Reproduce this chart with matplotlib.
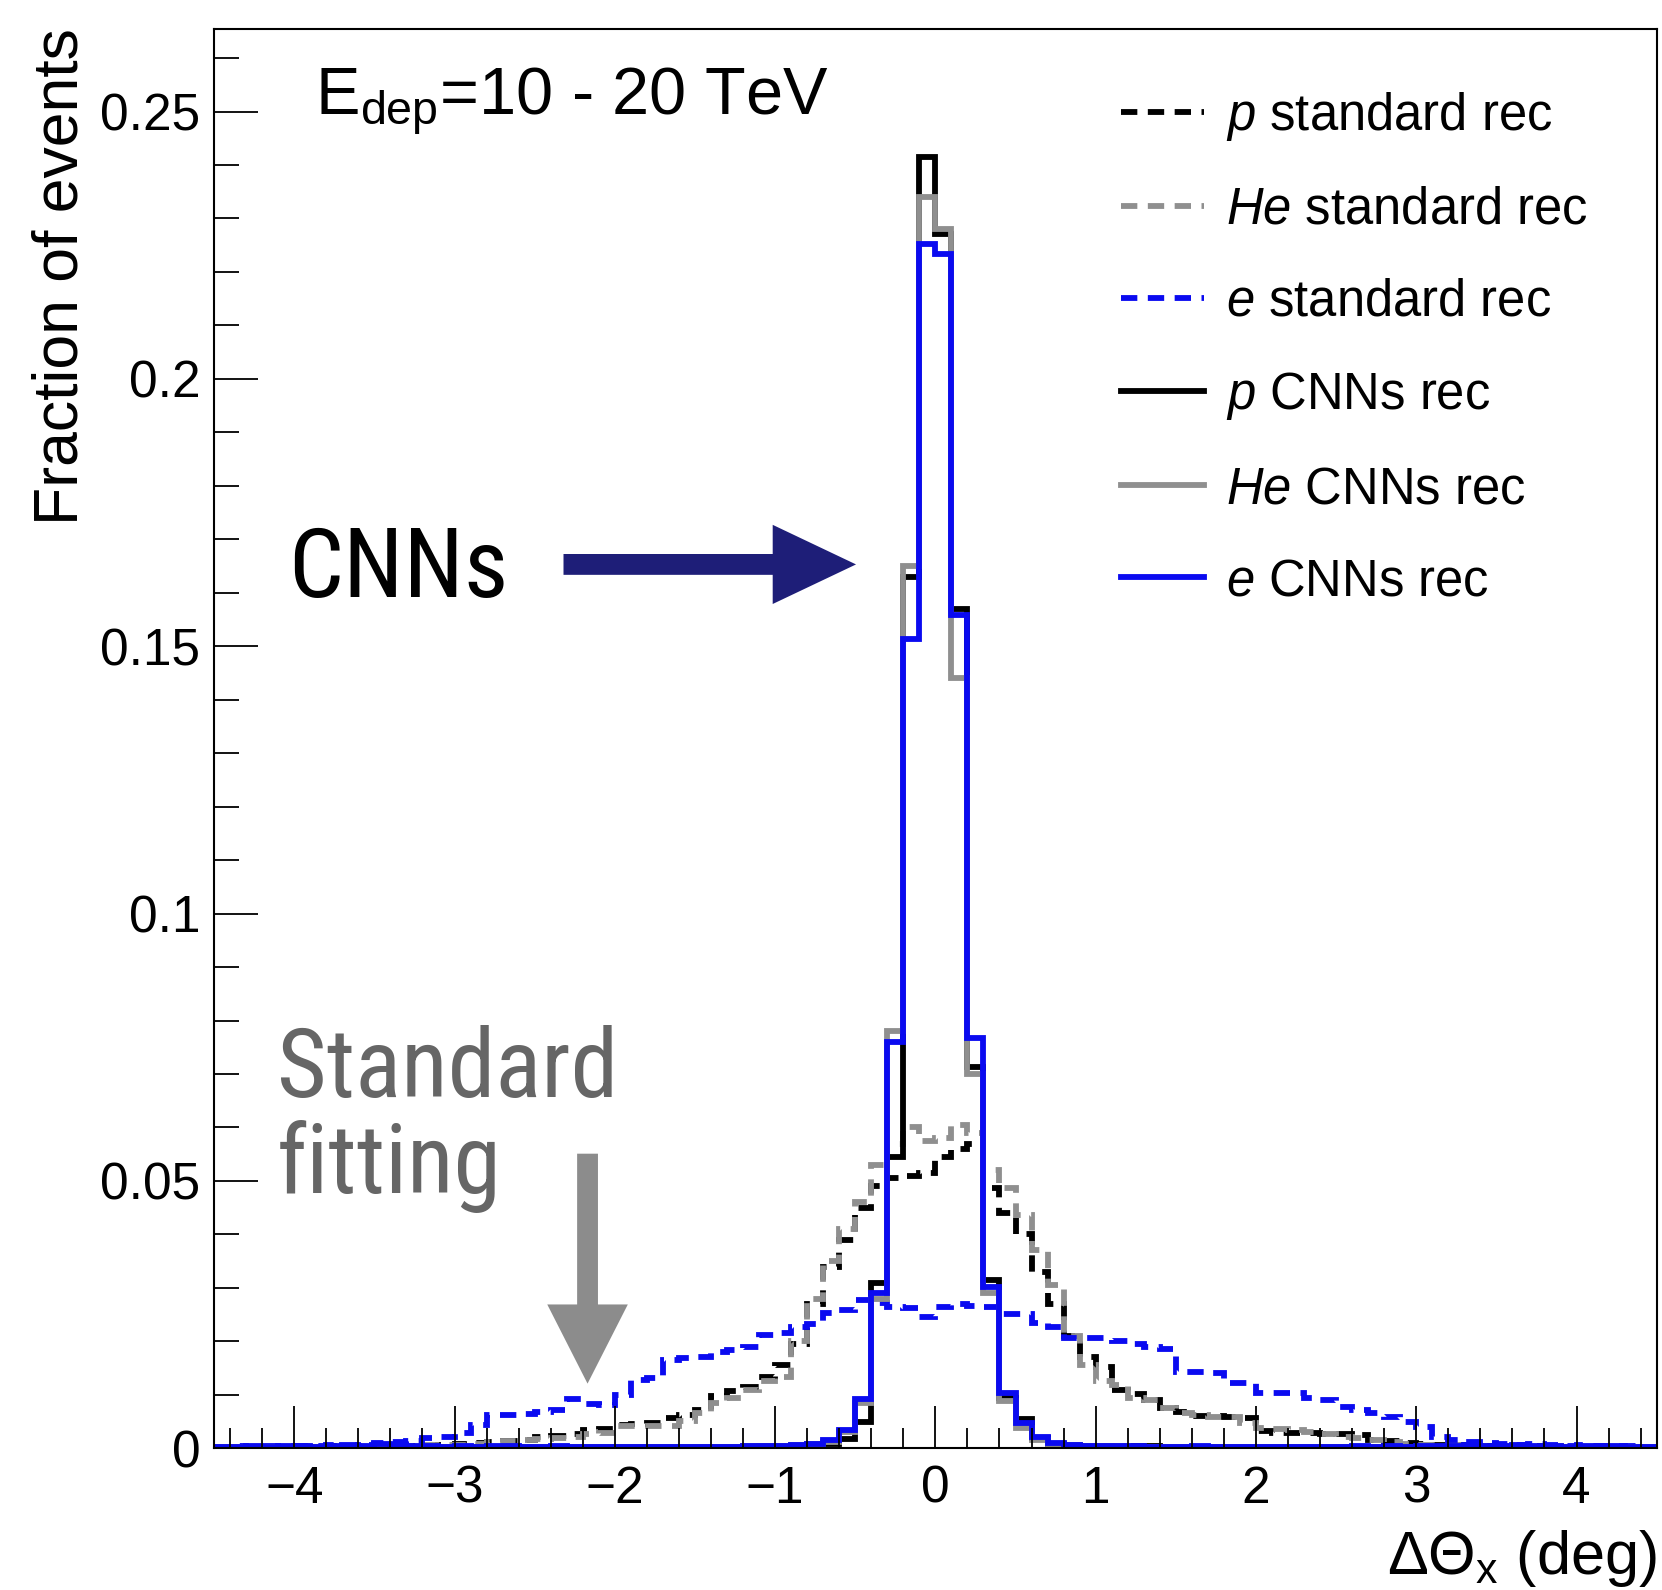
import numpy as np
import matplotlib
matplotlib.use("Agg")
import matplotlib.pyplot as plt
from matplotlib.patches import ArrowStyle
from matplotlib.ticker import MultipleLocator, FuncFormatter

plt.rcParams['font.family'] = ['Liberation Sans', 'DejaVu Sans']
plt.rcParams['mathtext.fontset'] = 'custom'
plt.rcParams['mathtext.rm'] = 'Liberation Sans'
plt.rcParams['mathtext.it'] = 'Liberation Sans:italic'

# binning: 90 bins of 0.1 deg between -4.5 and 4.5
bin_lo, bin_hi, n_bins = -4.5, 4.5, 90

# standard reconstruction (fraction of events per bin)
p_std = [0.0002, 0.0002, 0.0003, 0.0002, 0.0003, 0.0003, 0.0002, 0.0004, 0.0003, 0.0004,
         0.0004, 0.0005, 0.0004, 0.0005, 0.0006, 0.0008, 0.0010, 0.0012, 0.0014, 0.0016,
         0.0021, 0.0023, 0.0026, 0.0034, 0.0037, 0.0044, 0.0045, 0.0048, 0.0056, 0.0062,
         0.0072, 0.0097, 0.0108, 0.0115, 0.0134, 0.0156, 0.0195, 0.0270, 0.0340, 0.0390,
         0.0450, 0.0490, 0.0505, 0.0510, 0.0515, 0.0545, 0.0560, 0.0570, 0.0486, 0.0440,
         0.0400, 0.0330, 0.0270, 0.0210, 0.0170, 0.0153, 0.0110, 0.0102, 0.0090, 0.0075,
         0.0068, 0.0060, 0.0060, 0.0058, 0.0056, 0.0032, 0.0029, 0.0028, 0.0028, 0.0027,
         0.0026, 0.0024, 0.0016, 0.0013, 0.0010, 0.0008, 0.0007, 0.0006, 0.0005, 0.0005,
         0.0004, 0.0003, 0.0004, 0.0003, 0.0003, 0.0002, 0.0003, 0.0002, 0.0002, 0.0002]

he_std = [0.0002, 0.0003, 0.0002, 0.0003, 0.0002, 0.0004, 0.0003, 0.0003, 0.0004, 0.0003,
          0.0005, 0.0004, 0.0005, 0.0006, 0.0006, 0.0007, 0.0009, 0.0011, 0.0013, 0.0015,
          0.0017, 0.0020, 0.0022, 0.0026, 0.0029, 0.0041, 0.0042, 0.0042, 0.0041, 0.0052,
          0.0066, 0.0084, 0.0095, 0.0109, 0.0125, 0.0134, 0.0200, 0.0280, 0.0350, 0.0410,
          0.0460, 0.0530, 0.0570, 0.0600, 0.0575, 0.0580, 0.0605, 0.0590, 0.0520, 0.0486,
          0.0436, 0.0370, 0.0305, 0.0210, 0.0155, 0.0125, 0.0118, 0.0095, 0.0091, 0.0075,
          0.0066, 0.0062, 0.0059, 0.0059, 0.0048, 0.0038, 0.0036, 0.0034, 0.0030, 0.0026,
          0.0022, 0.0019, 0.0016, 0.0012, 0.0009, 0.0007, 0.0006, 0.0006, 0.0005, 0.0004,
          0.0004, 0.0003, 0.0003, 0.0004, 0.0002, 0.0003, 0.0002, 0.0002, 0.0003, 0.0002]

e_std = [0.0003, 0.0004, 0.0003, 0.0005, 0.0004, 0.0005, 0.0004, 0.0006, 0.0005, 0.0007,
         0.0010, 0.0012, 0.0014, 0.0019, 0.0022, 0.0028, 0.0044, 0.0062, 0.0062, 0.0065,
         0.0068, 0.0072, 0.0093, 0.0083, 0.0081, 0.0100, 0.0128, 0.0131, 0.0165, 0.0168,
         0.0171, 0.0180, 0.0184, 0.0190, 0.0212, 0.0215, 0.0227, 0.0232, 0.0253, 0.0259,
         0.0278, 0.0272, 0.0265, 0.0262, 0.0246, 0.0265, 0.0270, 0.0266, 0.0265, 0.0252,
         0.0252, 0.0235, 0.0227, 0.0206, 0.0206, 0.0206, 0.0200, 0.0196, 0.0190, 0.0185,
         0.0143, 0.0143, 0.0140, 0.0122, 0.0122, 0.0103, 0.0103, 0.0103, 0.0095, 0.0090,
         0.0078, 0.0072, 0.0066, 0.0058, 0.0050, 0.0040, 0.0021, 0.0015, 0.0012, 0.0010,
         0.0008, 0.0007, 0.0008, 0.0006, 0.0005, 0.0006, 0.0004, 0.0005, 0.0004, 0.0003]

# CNNs reconstruction
p_cnn = [0.0002, 0.0002, 0.0003, 0.0002, 0.0003, 0.0002, 0.0002, 0.0003, 0.0004, 0.0003,
         0.0005, 0.0004, 0.0003, 0.0003, 0.0002, 0.0003, 0.0002, 0.0003, 0.0003, 0.0002,
         0.0002, 0.0003, 0.0002, 0.0002, 0.0002, 0.0002, 0.0002, 0.0002, 0.0003, 0.0002,
         0.0002, 0.0003, 0.0003, 0.0003, 0.0004, 0.0004, 0.0005, 0.0006, 0.0008, 0.0018,
         0.0050, 0.0310, 0.0545, 0.1630, 0.2415, 0.2270, 0.1570, 0.0713, 0.0315, 0.0095,
         0.0055, 0.0020, 0.0008, 0.0006, 0.0004, 0.0004, 0.0003, 0.0005, 0.0004, 0.0003,
         0.0002, 0.0003, 0.0002, 0.0002, 0.0002, 0.0003, 0.0002, 0.0002, 0.0002, 0.0002,
         0.0002, 0.0003, 0.0002, 0.0002, 0.0003, 0.0002, 0.0003, 0.0002, 0.0003, 0.0002,
         0.0002, 0.0003, 0.0002, 0.0002, 0.0002, 0.0002, 0.0003, 0.0002, 0.0002, 0.0002]

he_cnn = [0.0002, 0.0002, 0.0002, 0.0003, 0.0002, 0.0002, 0.0003, 0.0002, 0.0003, 0.0003,
          0.0004, 0.0003, 0.0003, 0.0002, 0.0003, 0.0002, 0.0003, 0.0002, 0.0002, 0.0003,
          0.0002, 0.0002, 0.0003, 0.0002, 0.0002, 0.0002, 0.0002, 0.0003, 0.0002, 0.0002,
          0.0003, 0.0003, 0.0003, 0.0004, 0.0004, 0.0005, 0.0006, 0.0008, 0.0012, 0.0030,
          0.0085, 0.0280, 0.0780, 0.1650, 0.2340, 0.2280, 0.1440, 0.0700, 0.0290, 0.0088,
          0.0038, 0.0016, 0.0008, 0.0006, 0.0005, 0.0004, 0.0004, 0.0003, 0.0003, 0.0003,
          0.0002, 0.0002, 0.0003, 0.0002, 0.0002, 0.0002, 0.0002, 0.0003, 0.0002, 0.0002,
          0.0002, 0.0002, 0.0003, 0.0002, 0.0002, 0.0003, 0.0002, 0.0002, 0.0003, 0.0002,
          0.0002, 0.0002, 0.0003, 0.0002, 0.0002, 0.0002, 0.0002, 0.0002, 0.0003, 0.0002]

e_cnn = [0.0003, 0.0003, 0.0004, 0.0003, 0.0005, 0.0004, 0.0003, 0.0005, 0.0006, 0.0004,
         0.0008, 0.0006, 0.0004, 0.0005, 0.0003, 0.0004, 0.0003, 0.0005, 0.0004, 0.0003,
         0.0003, 0.0004, 0.0003, 0.0002, 0.0003, 0.0003, 0.0002, 0.0003, 0.0003, 0.0002,
         0.0003, 0.0003, 0.0003, 0.0004, 0.0004, 0.0005, 0.0006, 0.0009, 0.0016, 0.0034,
         0.0093, 0.0290, 0.0760, 0.1514, 0.2253, 0.2234, 0.1558, 0.0767, 0.0302, 0.0103,
         0.0047, 0.0022, 0.0010, 0.0007, 0.0005, 0.0005, 0.0004, 0.0004, 0.0003, 0.0003,
         0.0003, 0.0004, 0.0003, 0.0003, 0.0002, 0.0003, 0.0003, 0.0002, 0.0003, 0.0003,
         0.0003, 0.0004, 0.0003, 0.0004, 0.0003, 0.0004, 0.0005, 0.0004, 0.0006, 0.0005,
         0.0004, 0.0007, 0.0005, 0.0004, 0.0003, 0.0004, 0.0005, 0.0004, 0.0003, 0.0003]

labels = [r'$p$ standard rec', r'$\mathit{He}$ standard rec', r'$e$ standard rec',
          r'$p$ CNNs rec', r'$\mathit{He}$ CNNs rec', r'$e$ CNNs rec']

BLACK, GREY, BLUE = '#000000', '#8f8f8f', '#0a0af0'
DASH = (0, (2.8, 1.8))
NARROW = ['Roboto Condensed', 'Liberation Sans Narrow', 'DejaVu Sans Condensed', 'Roboto']

edges = np.linspace(bin_lo, bin_hi, n_bins + 1)

fig = plt.figure(figsize=(16.62, 15.90), dpi=100)
ax = fig.add_axes([0.1288, 0.0891, 0.868, 0.8929])

series = [(p_std, BLACK, DASH), (he_std, GREY, DASH), (e_std, BLUE, DASH),
          (p_cnn, BLACK, '-'), (he_cnn, GREY, '-'), (e_cnn, BLUE, '-')]
for (vals, c, ls), lab in zip(series, labels):
    ax.stairs(vals, edges, baseline=None, edgecolor=c, linewidth=4.2,
              linestyle=ls, label=lab)

ax.set_xlim(-4.5, 4.5)
ax.set_ylim(0, 0.2655)

# ROOT-like axes
ax.xaxis.set_major_locator(MultipleLocator(1))
ax.xaxis.set_minor_locator(MultipleLocator(0.2))
ax.yaxis.set_major_locator(MultipleLocator(0.05))
ax.yaxis.set_minor_locator(MultipleLocator(0.01))
ax.yaxis.set_major_formatter(FuncFormatter(lambda v, p: '%g' % round(v, 3)))
ax.tick_params(axis='x', which='major', direction='in', length=30, width=1.3,
               labelsize=37, pad=12)
ax.tick_params(axis='x', which='minor', direction='in', length=14.5, width=1.3)
ax.tick_params(axis='y', which='major', direction='in', length=32, width=1.3,
               labelsize=37, pad=10)
ax.tick_params(axis='y', which='minor', direction='in', length=18, width=1.3)
for s in ax.spines.values():
    s.set_linewidth(1.5)

fig.text(0.037, 0.982, 'Fraction of events', rotation=90, ha='center', va='top',
         fontsize=45)
fig.text(0.997, 0.020, r'ΔΘ$_\mathregular{x}$ (deg)', ha='right', va='center',
         fontsize=44)

ax.text(0.070, 0.9396, r'E$_\mathregular{dep}$=10 - 20 TeV', transform=ax.transAxes,
        fontsize=48, va='baseline', ha='left')

leg = ax.legend(loc='upper left', bbox_to_anchor=(0.629, 0.957), frameon=False,
                fontsize=36.5, handlelength=1.62, handletextpad=0.45,
                labelspacing=0.85, borderaxespad=0, borderpad=0)

# annotations
ax.text(0.051, 0.5997, 'CNNs', transform=ax.transAxes, fontsize=70,
        family=NARROW, fontstretch='condensed',
        va='baseline', ha='left', color='black')
ax.text(0.0434, 0.2475, 'Standard', transform=ax.transAxes, fontsize=69,
        family=NARROW, fontstretch='condensed',
        va='baseline', ha='left', color='#666666')
ax.text(0.0434, 0.180, 'fitting', transform=ax.transAxes, fontsize=69,
        family=NARROW, fontstretch='condensed',
        va='baseline', ha='left', color='#666666')

ax.annotate('', xy=(-0.495, 0.1653), xytext=(-2.32, 0.1653),
            arrowprops=dict(arrowstyle=ArrowStyle('simple', head_length=60,
                                                  head_width=57, tail_width=15),
                            mutation_scale=1, color='#1e1e78', lw=0,
                            shrinkA=0, shrinkB=0))
ax.annotate('', xy=(-2.17, 0.0121), xytext=(-2.17, 0.0551),
            arrowprops=dict(arrowstyle=ArrowStyle('simple', head_length=57,
                                                  head_width=58, tail_width=15),
                            mutation_scale=1, color='#8c8c8c', lw=0,
                            shrinkA=0, shrinkB=0))

fig.savefig('out.png', dpi=100)
